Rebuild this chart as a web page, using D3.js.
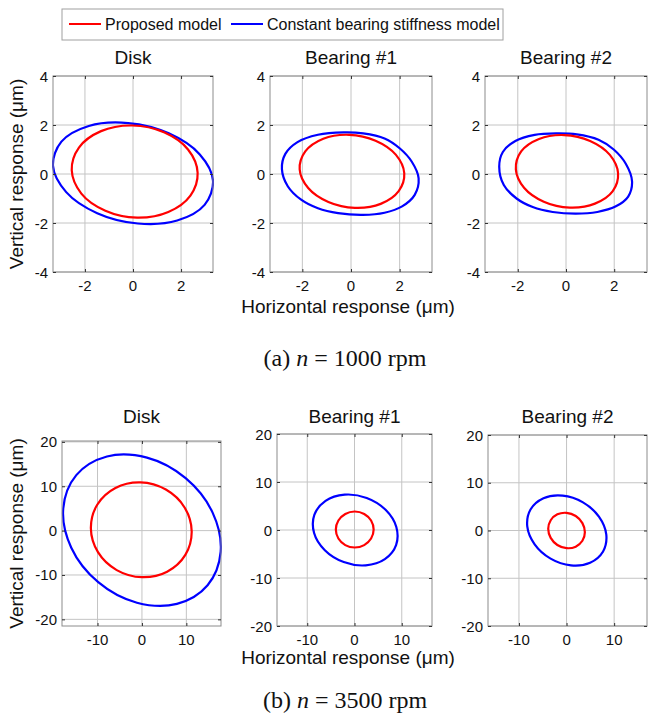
<!DOCTYPE html>
<html>
<meta charset="UTF-8" />
<script src="https://cdn.jsdelivr.net/npm/d3@7"></script>
<style>
*{margin:0; padding:0;}
body{background:#ffffff;}
text{font-family:"Liberation Sans", Arial, sans-serif; fill:#111;}
</style>
<body>
<div id="svgcontainer"></div>
<script>
// ---- data (orbit points, um) ----
var titles = ["Disk", "Bearing #1", "Bearing #2"];
var seriesNames = ["Proposed model", "Constant bearing stiffness model"];
var captions = [["(a) ", "n", " = 1000 rpm"], ["(b) ", "n", " = 3500 rpm"]];

var xTicks1000 = [-2, 0, 2];
var yTicks1000 = [-4, -2, 0, 2, 4];
var xTicks3500 = [-10, 0, 10];
var yTicks3500 = [-20, -10, 0, 10, 20];

// n = 1000 rpm
var propDisk1000 = [[2.69,0.05],[2.29,1.0],[1.29,1.7],[-0.03,1.98],[-1.33,1.75],[-2.25,1.08],[-2.55,0.15],[-2.15,-0.8],[-1.15,-1.5],[0.17,-1.78],[1.47,-1.55],[2.39,-0.88]];
var constDisk1000 = [[3.33,-0.27],[2.78,0.8],[1.49,1.66],[-0.2,2.08],[-1.84,1.96],[-2.98,1.32],[-3.33,0.33],[-2.78,-0.74],[-1.49,-1.6],[0.2,-2.02],[1.84,-1.9],[2.98,-1.26]];
var propBrg1_1000 = [[2.19,0.03],[1.84,0.79],[1.01,1.36],[-0.08,1.6],[-1.14,1.44],[-1.88,0.92],[-2.11,0.19],[-1.76,-0.57],[-0.93,-1.14],[0.16,-1.38],[1.22,-1.22],[1.96,-0.7]];
var constBrg1_1000 = [[-0.3,1.7],[0.5,1.66],[1.38,1.45],[2.0,1.05],[2.5,0.5],[2.78,-0.18],[2.62,-0.85],[2.1,-1.32],[1.38,-1.58],[0.49,-1.67],[-0.53,-1.6],[-1.36,-1.4],[-2.05,-1.05],[-2.6,-0.5],[-2.84,0.2],[-2.7,0.82],[-2.2,1.3],[-1.36,1.6]];
var propBrg2_1000 = [[2.16,0.03],[1.82,0.78],[1.0,1.35],[-0.08,1.59],[-1.12,1.43],[-1.86,0.92],[-2.08,0.19],[-1.74,-0.56],[-0.92,-1.13],[0.16,-1.37],[1.2,-1.21],[1.94,-0.7]];
var constBrg2_1000 = [[-0.41,1.66],[0.45,1.62],[1.35,1.4],[1.98,1.0],[2.48,0.42],[2.74,-0.3],[2.58,-0.92],[2.05,-1.33],[1.3,-1.55],[0.41,-1.62],[-0.55,-1.55],[-1.38,-1.35],[-2.05,-1.0],[-2.58,-0.45],[-2.77,0.3],[-2.62,0.9],[-2.1,1.35],[-1.3,1.6]];

// n = 3500 rpm
var propDisk3500 = [[11.2,-0.17],[9.6,5.22],[5.38,9.25],[-0.32,10.86],[-5.97,9.6],[-10.07,5.82],[-11.5,0.53],[-9.9,-4.86],[-5.68,-8.9],[0.02,-10.5],[5.67,-9.25],[9.77,-5.46]];
var constDisk3500 = [[14.78,-12.31],[17.72,-4.79],[15.91,4.05],[9.84,11.82],[1.13,16.45],[-7.88,16.71],[-14.78,12.51],[-17.72,4.99],[-15.91,-3.85],[-9.84,-11.62],[-1.13,-16.25],[7.88,-16.51]];
var propBrg1_3500 = [[4.05,0.1],[3.51,1.98],[2.05,3.35],[0.05,3.85],[-1.95,3.35],[-3.41,1.98],[-3.95,0.1],[-3.41,-1.78],[-1.95,-3.15],[0.05,-3.65],[2.05,-3.15],[3.51,-1.78]];
var constBrg1_3500 = [[8.8,-3.15],[8.85,0.61],[6.58,4.2],[2.58,6.67],[-2.08,7.36],[-6.13,6.07],[-8.5,3.15],[-8.55,-0.61],[-6.28,-4.2],[-2.28,-6.67],[2.38,-7.36],[6.43,-6.07]];
var propBrg2_3500 = [[3.85,-0.35],[3.33,1.55],[1.93,3.03],[0,3.7],[-1.93,3.38],[-3.33,2.15],[-3.85,0.35],[-3.33,-1.55],[-1.93,-3.03],[0,-3.7],[1.93,-3.38],[3.33,-2.15]];
var constBrg2_3500 = [[7.67,-4.4],[8.35,-0.86],[6.8,2.9],[3.45,5.89],[-0.82,7.3],[-4.85,6.76],[-7.57,4.4],[-8.25,0.86],[-6.7,-2.9],[-3.35,-5.89],[0.92,-7.3],[4.95,-6.76]];

// ---- layout ----
var width = 648, height = 720;
var svg = d3.select("#svgcontainer").append("svg")
	.attr("width", width).attr("height", height);

var rows = [
	{ xTicks: xTicks1000, yTicks: yTicks1000, titleY: 64, tickY: 291, xlabY: 313, caption: captions[0], capY: 366,
	  panels: [
		{ box: [53, 76, 213, 272], xd: [-3.33, 3.33], yd: [-4, 4], prop: propDisk1000, cons: constDisk1000 },
		{ box: [270, 76, 432, 272], xd: [-3.33, 3.33], yd: [-4, 4], prop: propBrg1_1000, cons: constBrg1_1000 },
		{ box: [485, 76, 647, 272], xd: [-3.36, 3.36], yd: [-4, 4], prop: propBrg2_1000, cons: constBrg2_1000 }
	  ] },
	{ xTicks: xTicks3500, yTicks: yTicks3500, titleY: 423, tickY: 645, xlabY: 664, caption: captions[1], capY: 708,
	  panels: [
		{ box: [62, 441, 221, 626], xd: [-18, 17.8], yd: [-21.5, 20.2], prop: propDisk3500, cons: constDisk3500 },
		{ box: [277, 434, 432, 626], xd: [-16.4, 16.4], yd: [-20, 20], prop: propBrg1_3500, cons: constBrg1_3500 },
		{ box: [488, 435, 647, 626], xd: [-16.5, 16.9], yd: [-20, 20], prop: propBrg2_3500, cons: constBrg2_3500 }
	  ] }
];

var clipId = 0;
rows.forEach(function(row) {
	row.panels.forEach(function(p, i) {
		var l = p.box[0], t = p.box[1], r = p.box[2], b = p.box[3];
		var x = d3.scaleLinear().domain(p.xd).range([l, r]);
		var y = d3.scaleLinear().domain(p.yd).range([b, t]);
		var g = svg.append("g");

		// grid
		g.selectAll(".gx").data(row.xTicks).enter().append("line")
			.attr("x1", function(d){return x(d);}).attr("x2", function(d){return x(d);})
			.attr("y1", t).attr("y2", b)
			.style("stroke", "#c4c4c4").style("stroke-width", 1);
		g.selectAll(".gy").data(row.yTicks).enter().append("line")
			.attr("y1", function(d){return y(d);}).attr("y2", function(d){return y(d);})
			.attr("x1", l).attr("x2", r)
			.style("stroke", "#c4c4c4").style("stroke-width", 1);

		// curves
		clipId++;
		svg.append("clipPath").attr("id", "clip" + clipId).append("rect")
			.attr("x", l - 1).attr("y", t).attr("width", r - l + 2).attr("height", b - t);
		var line = d3.line().x(function(d){return x(d[0]);}).y(function(d){return y(d[1]);})
			.curve(d3.curveCatmullRomClosed.alpha(0.5));
		g.append("path").attr("d", line(p.cons)).attr("clip-path", "url(#clip" + clipId + ")")
			.style("fill", "none").style("stroke", "#0000ff").style("stroke-width", 2.2);
		g.append("path").attr("d", line(p.prop)).attr("clip-path", "url(#clip" + clipId + ")")
			.style("fill", "none").style("stroke", "#ff0000").style("stroke-width", 2.2);

		// box
		g.append("rect").attr("x", l).attr("y", t).attr("width", r - l).attr("height", b - t)
			.style("fill", "none").style("stroke", "#8c8c8c").style("stroke-width", 1);

		// ticks (inside, all four sides)
		var xAxB = d3.axisBottom(x).tickValues(row.xTicks).tickSize(-3).tickFormat("");
		var xAxT = d3.axisTop(x).tickValues(row.xTicks).tickSize(-3).tickFormat("");
		var yAxL = d3.axisLeft(y).tickValues(row.yTicks).tickSize(-3).tickFormat("");
		var yAxR = d3.axisRight(y).tickValues(row.yTicks).tickSize(-3).tickFormat("");
		[[xAxB, "translate(0," + b + ")"], [xAxT, "translate(0," + t + ")"],
		 [yAxL, "translate(" + l + ",0)"], [yAxR, "translate(" + r + ",0)"]].forEach(function(a) {
			var ax = g.append("g").attr("transform", a[1]).call(a[0]);
			ax.select(".domain").remove();
			ax.selectAll("line").style("stroke", "#333");
		});

		// tick labels
		g.selectAll(".xl").data(row.xTicks).enter().append("text")
			.attr("x", function(d){return x(d);}).attr("y", row.tickY)
			.attr("text-anchor", "middle").style("font-size", "15px")
			.text(function(d){return d;});
		g.selectAll(".yl").data(row.yTicks).enter().append("text")
			.attr("x", l - 5).attr("y", function(d){return y(d) + 5.5;})
			.attr("text-anchor", "end").style("font-size", "15px")
			.text(function(d){return d;});

		// title
		g.append("text").attr("x", (l + r) / 2).attr("y", row.titleY)
			.attr("text-anchor", "middle").style("font-size", "19px")
			.text(titles[i]);

		if (i == 0) {
			svg.append("text")
				.attr("transform", "translate(23," + (t + b) / 2 + ") rotate(-90)")
				.attr("text-anchor", "middle").style("font-size", "19px")
				.text("Vertical response (\u03bcm)");
		}
	});

	svg.append("text").attr("x", 348).attr("y", row.xlabY)
		.attr("text-anchor", "middle").style("font-size", "19px")
		.text("Horizontal response (\u03bcm)");

	var cap = svg.append("text").attr("x", 345).attr("y", row.capY)
		.attr("text-anchor", "middle")
		.style("font-family", "'Liberation Serif', 'Times New Roman', serif").style("font-size", "24px");
	cap.append("tspan").text(row.caption[0]);
	cap.append("tspan").style("font-style", "italic").text(row.caption[1]);
	cap.append("tspan").text(row.caption[2]);
});

// legend
var leg = svg.append("g");
leg.append("rect").attr("x", 62).attr("y", 9).attr("width", 441).attr("height", 31)
	.style("fill", "#fff").style("stroke", "#a0a0a0").style("stroke-width", 1);
var legItems = [{ x: 69, color: "#ff0000" }, { x: 231, color: "#0000ff" }];
leg.selectAll(".li").data(legItems).enter().append("line")
	.attr("x1", function(d){return d.x;}).attr("x2", function(d){return d.x + 32;})
	.attr("y1", 24).attr("y2", 24)
	.style("stroke", function(d){return d.color;}).style("stroke-width", 2);
leg.selectAll(".lt").data(legItems).enter().append("text")
	.attr("x", function(d){return d.x + 36;}).attr("y", 30)
	.style("font-size", "16px")
	.text(function(d, i){return seriesNames[i];});
</script>
</body>
</html>
